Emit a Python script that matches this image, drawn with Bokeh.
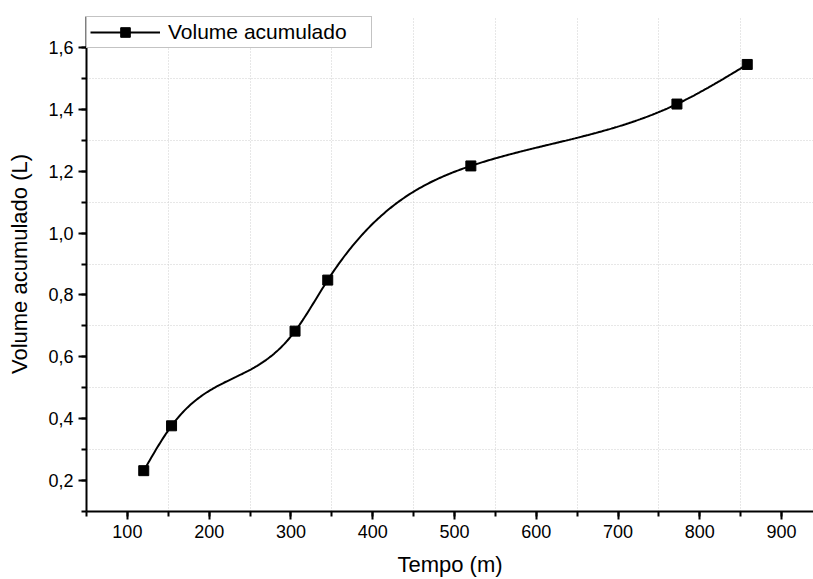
import numpy as np
from bokeh.plotting import figure
from bokeh.models import (SingleIntervalTicker, FixedTicker, CustomJSTickFormatter,
                          Legend, LegendItem, Range1d)
from bokeh.embed import file_html
from bokeh.resources import INLINE

# data
tempo = [120, 154, 305, 345, 520, 772, 858]
volume = [0.232, 0.377, 0.683, 0.848, 1.217, 1.417, 1.545]

x_label = "Tempo (m)"
y_label = "Volume acumulado (L)"
series_name = "Volume acumulado"

FONT = "Liberation Sans"


def natural_spline(x, y, n=400):
    x = np.asarray(x, float)
    y = np.asarray(y, float)
    k = len(x)
    h = np.diff(x)
    A = np.zeros((k, k))
    r = np.zeros(k)
    A[0, 0] = 1
    A[-1, -1] = 1
    for i in range(1, k - 1):
        A[i, i - 1] = h[i - 1]
        A[i, i] = 2 * (h[i - 1] + h[i])
        A[i, i + 1] = h[i]
        r[i] = 6 * ((y[i + 1] - y[i]) / h[i] - (y[i] - y[i - 1]) / h[i - 1])
    M = np.linalg.solve(A, r)
    xs = np.linspace(x[0], x[-1], n)
    idx = np.clip(np.searchsorted(x, xs) - 1, 0, k - 2)
    x0, x1 = x[idx], x[idx + 1]
    y0, y1 = y[idx], y[idx + 1]
    m0, m1 = M[idx], M[idx + 1]
    hh = x1 - x0
    a = (x1 - xs) / hh
    b = (xs - x0) / hh
    ys = a * y0 + b * y1 + ((a ** 3 - a) * m0 + (b ** 3 - b) * m1) * hh ** 2 / 6
    return xs, ys


sx, sy = natural_spline(tempo, volume)

p = figure(width=813, height=579, output_backend="svg", toolbar_location=None,
           x_range=Range1d(50, 939), y_range=Range1d(0.1, 1.7),
           min_border_left=86, min_border_right=0, min_border_top=16, min_border_bottom=68)
p.outline_line_color = None
p.background_fill_color = "white"
p.border_fill_color = "white"

line_r = p.line(sx, sy, line_color="black", line_width=2)
mark_r = p.scatter(tempo, volume, marker="square", size=10, fill_color="black", line_color="black")

# axes
p.xaxis.ticker = SingleIntervalTicker(interval=100, num_minor_ticks=2)
p.yaxis.ticker = SingleIntervalTicker(interval=0.2, num_minor_ticks=2)
p.yaxis.formatter = CustomJSTickFormatter(code="return tick.toFixed(1).replace('.', ',');")
for ax in (p.xaxis[0], p.yaxis[0]):
    ax.axis_line_width = 2
    ax.axis_line_color = "black"
    ax.major_tick_line_width = 2
    ax.minor_tick_line_width = 2
    ax.major_tick_out = 8
    ax.major_tick_in = 0
    ax.minor_tick_out = 5
    ax.minor_tick_in = 0
    ax.major_label_text_font = FONT
    ax.major_label_text_font_size = "18px"
    ax.major_label_text_color = "black"
    ax.axis_label_text_font = FONT
    ax.axis_label_text_font_size = "22px"
    ax.axis_label_text_font_style = "normal"
    ax.axis_label_text_color = "black"
    ax.major_label_standoff = 5
p.xaxis.axis_label = x_label
p.yaxis.axis_label = y_label
p.xaxis.axis_label_standoff = 11
p.yaxis.axis_label_standoff = 13

# grid at minor positions, dotted
p.xgrid.ticker = FixedTicker(ticks=list(np.arange(150, 1000, 100)))
p.ygrid.ticker = FixedTicker(ticks=list(np.round(np.arange(0.3, 1.7, 0.2), 2)))
for g in (p.xgrid[0], p.ygrid[0]):
    g.grid_line_color = "#cfcfcf"
    g.grid_line_dash = "1 2"
    g.grid_line_width = 1

legend = Legend(items=[LegendItem(label=series_name, renderers=[line_r, mark_r])],
                location="top_left", margin=0, padding=3, glyph_width=70, glyph_height=24,
                label_standoff=8, label_width=200, spacing=0,
                label_text_font=FONT, label_text_font_size="21px", label_text_color="black",
                border_line_color="#888888", border_line_width=1,
                background_fill_color="white", background_fill_alpha=1)
p.add_layout(legend)

open("out.html", "w").write(file_html(p, INLINE))
